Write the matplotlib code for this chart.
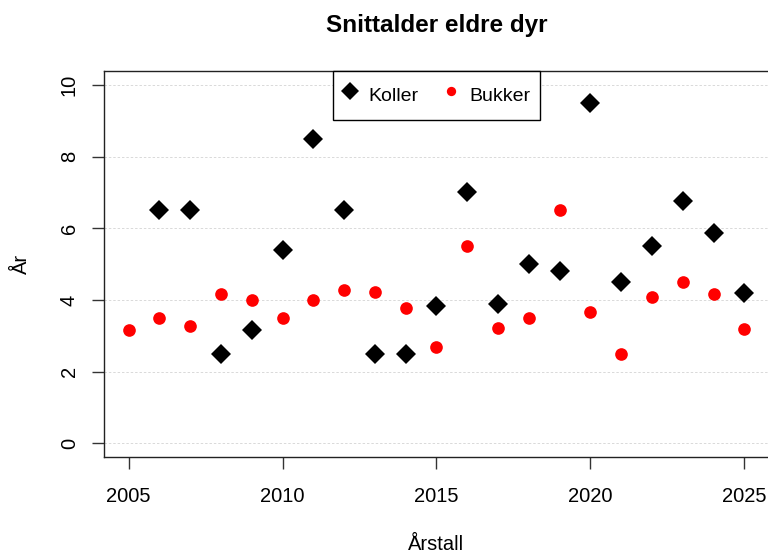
import numpy as np
import matplotlib
matplotlib.use('Agg')
import matplotlib.pyplot as plt
from matplotlib.lines import Line2D

plt.rcParams['font.family'] = ['Liberation Sans', 'DejaVu Sans']

# mean age of older animals per year
years_koller = [2006, 2007, 2008, 2009, 2010, 2011, 2012, 2013, 2014, 2015,
                2016, 2017, 2018, 2019, 2020, 2021, 2022, 2023, 2024, 2025]
koller = [6.5, 6.5, 2.5, 3.17, 5.38, 8.5, 6.5, 2.5, 2.5, 3.83,
          7.0, 3.88, 5.0, 4.82, 9.5, 4.5, 5.5, 6.75, 5.88, 4.2]
years_bukker = list(range(2005, 2026))
bukker = [3.17, 3.5, 3.27, 4.17, 4.0, 3.5, 4.0, 4.28, 4.22, 3.78, 2.68,
          5.5, 3.22, 3.5, 6.5, 3.67, 2.5, 4.09, 4.5, 4.17, 3.19]

xticks = [2005, 2010, 2015, 2020, 2025]
yticks = [0, 2, 4, 6, 8, 10]

FS = 14.5
fig = plt.figure(figsize=(7.68, 5.54), dpi=100)
ax = fig.add_axes([0.1354, 0.1742, 0.8659, 0.6982])

for y in yticks:
    ax.axhline(y, color='#d9d9d9', lw=0.7, ls=(0, (2.5, 2)), zorder=0)

ax.plot(years_koller, koller, ls='none', marker='D', ms=10.6, mew=0,
        color='black', zorder=3)
ax.plot(years_bukker, bukker, ls='none', marker='o', ms=9.1, mew=0,
        color='#ff0000', zorder=3)

ax.set_xlim(2004.2, 2025.8)
ax.set_ylim(-0.4, 10.4)
ax.set_xticks(xticks)
ax.set_yticks(yticks)
ax.tick_params(axis='both', length=8.6, width=1.0, color='#333333',
               labelsize=FS)
ax.tick_params(axis='x', pad=13)
ax.tick_params(axis='y', pad=9.5, labelrotation=90)
for lab in ax.get_yticklabels():
    lab.set_va('center')
for sp in ax.spines.values():
    sp.set_linewidth(1.0)
    sp.set_color('#222222')

ax.set_xlabel('Årstall', fontsize=FS)
ax.set_ylabel('År', fontsize=FS)
ax.xaxis.set_label_coords(0.5, -0.2)
ax.yaxis.set_label_coords(-0.11, 0.5)

handles = [Line2D([], [], ls='none', marker='D', ms=9.0, mew=0, color='black'),
           Line2D([], [], ls='none', marker='o', ms=6.7, mew=0, color='#ff0000')]
leg = ax.legend(handles, ['Koller', 'Bukker'], loc='upper center',
                bbox_to_anchor=(0.5, 1.0), ncol=2, fontsize=14,
                frameon=True, fancybox=False, borderaxespad=0,
                borderpad=0.5, handlelength=0.75, handleheight=1.95,
                handletextpad=0.6, columnspacing=1.27)
leg.get_frame().set_edgecolor('black')
leg.get_frame().set_linewidth(1.0)
leg.get_frame().set_alpha(1)

fig.text(0.5684, 1 - 32 / 554, 'Snittalder eldre dyr', ha='center',
         va='baseline', fontsize=17.5, fontweight='bold')

fig.savefig('out.png', dpi=100)
